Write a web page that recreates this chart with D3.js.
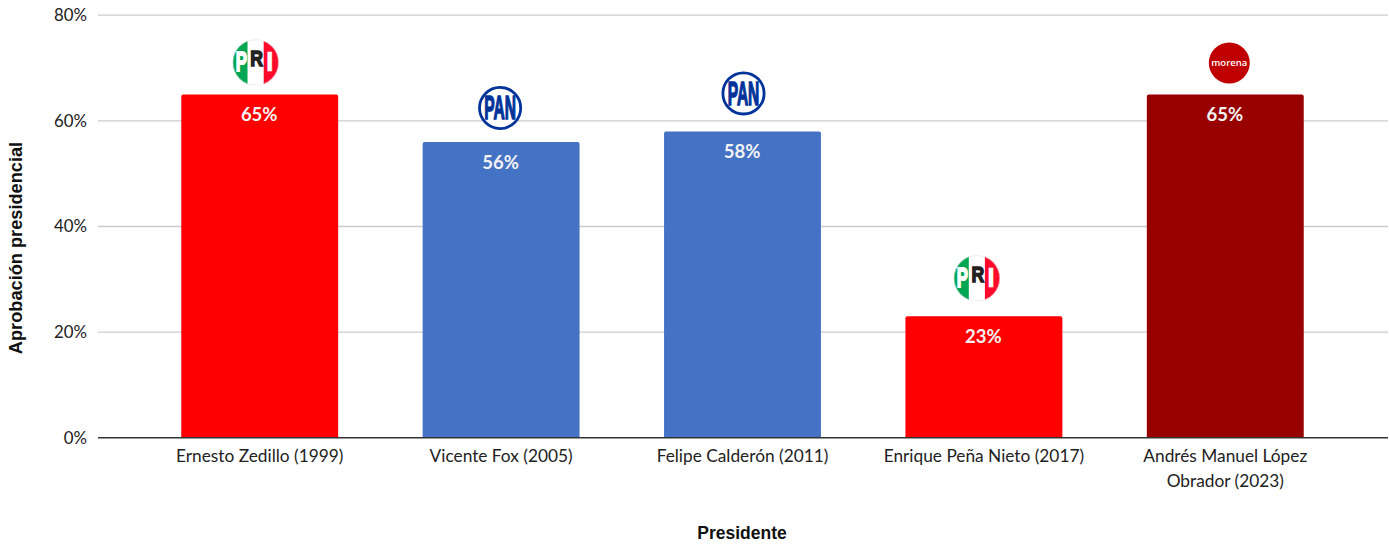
<!DOCTYPE html>
<html>
<head>
<meta charset="utf-8">
<script src="https://cdn.jsdelivr.net/npm/d3@7"></script>
<style>
  html, body { margin: 0; background: #fff; }
  svg { display: block; }
</style>
</head>
<body>
<div id="chart"></div>
<script>
const presidents = ['Ernesto Zedillo (1999)', 'Vicente Fox (2005)', 'Felipe Calderón (2011)', 'Enrique Peña Nieto (2017)', 'Andrés Manuel López Obrador (2023)'];
const approval = [65, 56, 58, 23, 65];
const parties = ['PRI', 'PAN', 'PAN', 'PRI', 'morena'];
const yTicks = [0, 20, 40, 60, 80];

const partyColor = { PRI: '#ff0000', PAN: '#4472c4', morena: '#980000' };
// logos were placed by hand on the original, so they don't sit exactly on the bar centre
const logoNudge = [[-4, -9], [-1, -12], [1, -16], [-7, -15], [4, -11.5]];

const width = 1389;
const height = 544;
const labelFont = 'Lato, "Open Sans", sans-serif';

const svg = d3.select('#chart').append('svg')
  .attr('width', width)
  .attr('height', height)
  .attr('viewBox', `0 0 ${width} ${height}`);

const x = d3.scaleBand()
  .domain(presidents)
  .range([97.5, 1387.5])
  .paddingInner(0.35)
  .paddingOuter(0.347);

const y = d3.scaleLinear().domain([0, 80]).range([437.8, 15.2]);

// gridlines
svg.append('g')
  .selectAll('line')
  .data(yTicks.filter(d => d > 0))
  .join('line')
  .attr('x1', 98)
  .attr('x2', 1388)
  .attr('y1', d => y(d))
  .attr('y2', d => y(d))
  .attr('stroke', '#cccccc')
  .attr('stroke-width', 1.3);

// y axis labels
const yAxis = svg.append('g')
  .attr('transform', 'translate(98,0)')
  .call(d3.axisLeft(y).tickValues(yTicks).tickSize(0).tickPadding(11).tickFormat(d => `${d}%`));
yAxis.select('.domain').remove();
yAxis.selectAll('text')
  .attr('font-family', labelFont)
  .attr('font-size', 16.8)
  .attr('fill', '#222');

// bars, square at the bottom and slightly rounded at the top
svg.append('g')
  .selectAll('path')
  .data(presidents)
  .join('path')
  .attr('fill', (d, i) => partyColor[parties[i]])
  .attr('d', (d, i) => {
    const l = x(d);
    const r = l + x.bandwidth();
    const t = y(approval[i]);
    const b = y(0);
    return `M${l},${b}V${t + 2}Q${l},${t} ${l + 2},${t}H${r - 2}Q${r},${t} ${r},${t + 2}V${b}Z`;
  });

// baseline
svg.append('line')
  .attr('x1', 98)
  .attr('x2', 1388)
  .attr('y1', y(0))
  .attr('y2', y(0))
  .attr('stroke', '#333')
  .attr('stroke-width', 1.4);

// value labels
svg.append('g')
  .selectAll('text')
  .data(presidents)
  .join('text')
  .attr('x', d => x(d) + x.bandwidth() / 2 - 0.5)
  .attr('y', (d, i) => y(approval[i]) + 27)
  .attr('text-anchor', 'middle')
  .attr('font-family', labelFont)
  .attr('font-weight', 700)
  .attr('font-size', 18.5)
  .attr('fill', '#f3f3f3')
  .text((d, i) => `${approval[i]}%`);

// category labels, wrapped like the original
const wrapped = { 'Andrés Manuel López Obrador (2023)': ['Andrés Manuel López', 'Obrador (2023)'] };
svg.append('g')
  .selectAll('text')
  .data(presidents)
  .join('text')
  .attr('text-anchor', 'middle')
  .attr('font-family', labelFont)
  .attr('font-size', 17.3)
  .attr('fill', '#222')
  .each(function (d) {
    const lines = wrapped[d] || [d];
    d3.select(this).selectAll('tspan')
      .data(lines)
      .join('tspan')
      .attr('x', x(d) + x.bandwidth() / 2)
      .attr('y', (l, i) => 462 + i * 25)
      .text(l => l);
  });

// axis titles
svg.append('text')
  .attr('x', 742)
  .attr('y', 539)
  .attr('text-anchor', 'middle')
  .attr('font-family', '"Liberation Sans", Arial, sans-serif')
  .attr('font-weight', 700)
  .attr('font-size', 17.5)
  .attr('fill', '#111')
  .text('Presidente');

svg.append('text')
  .attr('transform', 'translate(22,248) rotate(-90)')
  .attr('text-anchor', 'middle')
  .attr('font-family', '"Liberation Sans", Arial, sans-serif')
  .attr('font-weight', 700)
  .attr('font-size', 18.2)
  .attr('fill', '#111')
  .text('Aprobación presidencial');

// party logos
const defs = svg.append('defs');
defs.append('clipPath').attr('id', 'pri-clip').append('circle').attr('r', 23);

function logoLetter(g, txt, cx, cy, size, sx, fill, weight) {
  g.append('text')
    .attr('transform', `translate(${cx},${cy}) scale(${sx},1)`)
    .attr('text-anchor', 'middle')
    .attr('font-family', '"Liberation Sans", Arial, sans-serif')
    .attr('font-weight', 700)
    .attr('font-size', size)
    .attr('fill', fill)
    .attr('stroke', fill)
    .attr('stroke-width', weight)
    .text(txt);
}

function drawPri(g) {
  const c = g.append('g').attr('clip-path', 'url(#pri-clip)');
  c.append('rect').attr('x', -23).attr('y', -23).attr('width', 15).attr('height', 46).attr('fill', '#00a651');
  c.append('rect').attr('x', -8).attr('y', -23).attr('width', 16).attr('height', 46).attr('fill', '#ffffff');
  c.append('rect').attr('x', 8).attr('y', -23).attr('width', 15).attr('height', 46).attr('fill', '#ff0a2a');
  g.append('circle').attr('r', 22.7).attr('fill', 'none').attr('stroke', '#dddddd').attr('stroke-width', 0.5);
  logoLetter(g, 'P', -14.5, 9, 27, 0.62, '#ffffff', 1.8);
  logoLetter(g, 'R', 1, 3.5, 22, 0.8, '#222222', 1.5);
  logoLetter(g, 'I', 14, 9, 27, 1, '#ffffff', 0.5);
}

function drawPan(g) {
  g.append('circle').attr('r', 20.6).attr('fill', '#fff').attr('stroke', '#003399').attr('stroke-width', 2.8);
  logoLetter(g, 'PAN', 0, 11.5, 33, 0.47, '#003399', 1.6);
}

function drawMorena(g) {
  g.append('circle').attr('r', 20.5).attr('fill', '#c00000');
  g.append('text')
    .attr('y', 3.5)
    .attr('text-anchor', 'middle')
    .attr('font-family', '"Open Sans", sans-serif')
    .attr('font-weight', 600)
    .attr('font-size', 9.5)
    .attr('fill', '#fff')
    .text('morena');
}

const logoDrawers = { PRI: drawPri, PAN: drawPan, morena: drawMorena };
const logoRadius = { PRI: 23, PAN: 22, morena: 20 };

svg.append('g')
  .selectAll('g')
  .data(presidents)
  .join('g')
  .attr('transform', (d, i) => {
    const cx = x(d) + x.bandwidth() / 2 + logoNudge[i][0];
    const cy = y(approval[i]) - logoRadius[parties[i]] + logoNudge[i][1];
    return `translate(${cx},${cy})`;
  })
  .each(function (d, i) {
    logoDrawers[parties[i]](d3.select(this));
  });
</script>
</body>
</html>
